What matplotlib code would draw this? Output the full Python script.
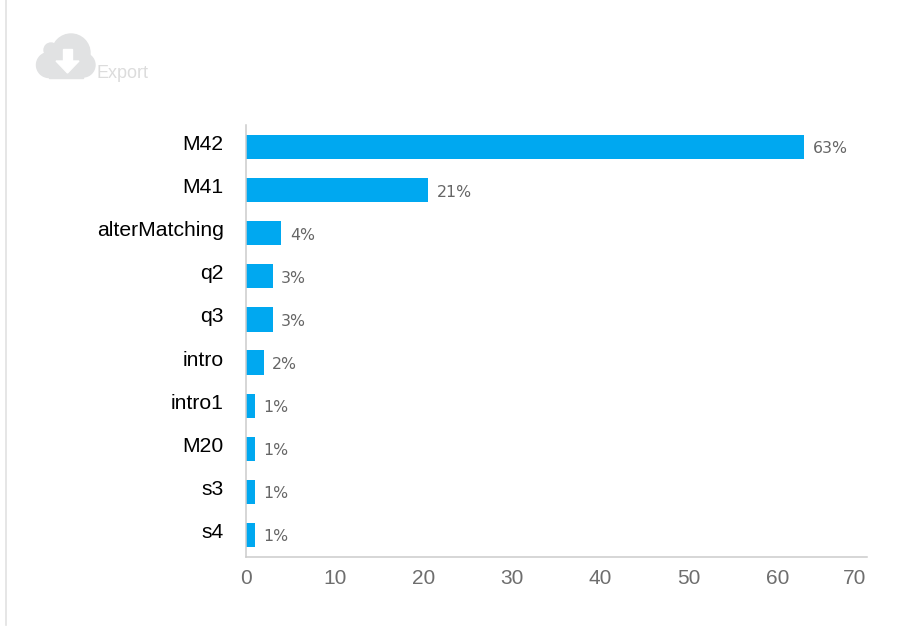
import matplotlib
matplotlib.use('Agg')
import matplotlib.pyplot as plt
from matplotlib.patches import Circle, Rectangle, Polygon
from matplotlib.transforms import Affine2D

labels = ['M42', 'M41', 'alterMatching', 'q2', 'q3', 'intro', 'intro1', 'M20', 's3', 's4']
values = [63, 20.6, 4, 3, 3, 2, 1, 1, 1, 1]
pct_labels = ['63%', '21%', '4%', '3%', '3%', '2%', '1%', '1%', '1%', '1%']
ticks = [0, 10, 20, 30, 40, 50, 60, 70]

W, H = 898, 638
plt.rcParams['font.family'] = ['Liberation Sans', 'DejaVu Sans']

fig = plt.figure(figsize=(W / 100, H / 100), dpi=100)
ax = fig.add_axes([246 / W, 1 - 557 / H, (867 - 246) / W, (557 - 125) / H])
ys = list(range(len(labels)))
ax.barh(ys, values, height=0.56, color='#00a8f0')
ax.set_xlim(0, 70.1)
ax.set_ylim(9.51, -0.51)
ax.set_yticks(ys)
ax.set_yticklabels(labels, fontsize=15.2, color='black')
ax.set_xticks(ticks)
ax.set_xticklabels([str(t) for t in ticks], fontsize=15, color='#6e6e6e')
ax.tick_params(axis='y', length=0, pad=16)
ax.tick_params(axis='x', length=0, pad=8.5)
for s in ['top', 'right']:
    ax.spines[s].set_visible(False)
for s in ['left', 'bottom']:
    ax.spines[s].set_color('#cccccc')
    ax.spines[s].set_linewidth(1.1)

# category labels sit a little above their bars, last x label stays inside the axis
for t in ax.get_yticklabels():
    t.set_transform(t.get_transform() + Affine2D().translate(0, 4.5))
ax.get_xticklabels()[-1].set_ha('right')

for y, v, t in zip(ys, values, pct_labels):
    ax.annotate(t, (v, y), xytext=(6.2, -1.4), textcoords='offset points', va='center',
                fontsize=11.3, color='#666666', family='DejaVu Sans')

# page edge and export icon
bg = fig.add_axes([0, 0, 1, 1], zorder=-1)
bg.set_xlim(0, W)
bg.set_ylim(H, 0)
bg.axis('off')
bg.plot([6, 6], [0, 625], color='#e2e2e2', lw=1.2)
cloud = '#e1e2e3'
bg.add_patch(Circle((49, 65), 12.5, color=cloud))
bg.add_patch(Circle((51, 50), 7, color=cloud))
bg.add_patch(Circle((71, 53), 19, color=cloud))
bg.add_patch(Circle((83, 65), 12, color=cloud))
bg.add_patch(Rectangle((49, 55), 34, 22.5, color=cloud))
bg.add_patch(Rectangle((63, 49), 9, 12, color='white'))
bg.add_patch(Polygon([[56, 61], [79, 61], [67.5, 73]], color='white'))
bg.text(96, 73.5, 'Export', fontsize=13, color='#dcdcdc', va='center')

fig.savefig('out.png', dpi=100)
